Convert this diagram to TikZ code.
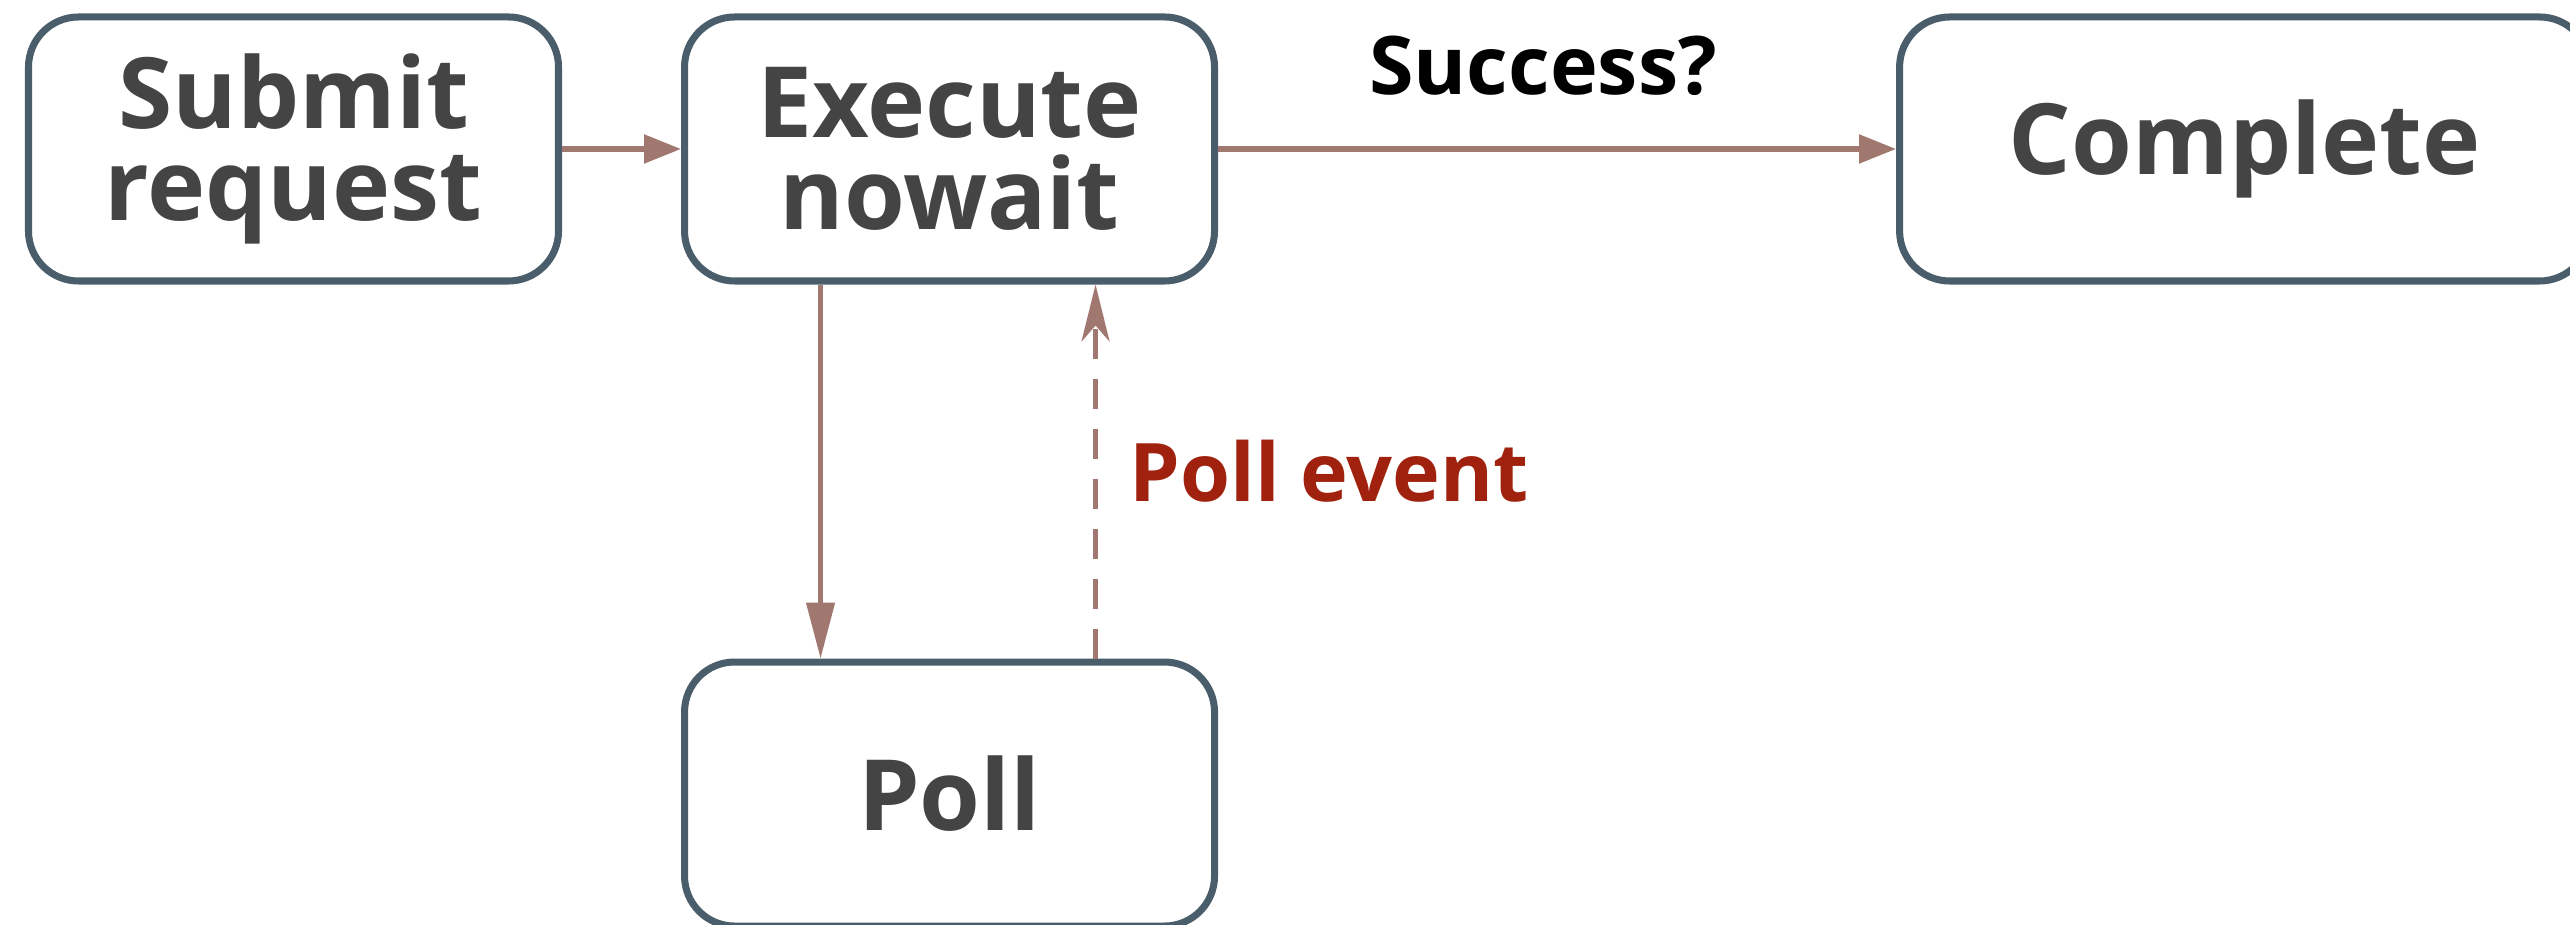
\documentclass[tikz,border=0pt]{standalone}
\usepackage{fontspec}
\setmainfont{Open Sans}
\usepackage{xcolor}
\usepackage{tikz}
\usetikzlibrary{arrows.meta,positioning}

\definecolor{boxline}{RGB}{74,93,107}
\definecolor{boxtext}{RGB}{68,68,68}
\definecolor{arrowcol}{RGB}{160,120,112}
\definecolor{eventred}{RGB}{160,34,14}

\begin{document}
\begin{tikzpicture}[
    >=Latex,
    node distance=11.8mm and 38mm,
    state/.style={draw=boxline, line width=2pt, rounded corners=5mm, align=center, minimum width=5.3cm, minimum height=2.64cm, inner sep=0pt, text=boxtext, font=\fontsize{28}{26}\selectfont\bfseries},
    widestate/.style={state, minimum width=6.9cm},
    line/.style={-{Triangle[length=3.7mm, width=2.8mm]}, line width=1.5pt, draw=arrowcol},
    longline/.style={-{Triangle[length=5.6mm, width=2.8mm]}, line width=1.3pt, draw=arrowcol},
    eventline/.style={-{Stealth[length=5.7mm, width=2.8mm, inset=1.6mm]}, line width=1.3pt, draw=arrowcol, dash pattern=on 3mm off 2mm}
]
\useasboundingbox (0,0) rectangle (25.7,-9.25);

% Top row of states.
\node[state] (submit) at (2.935,-1.49) {Submit\\request};
\node[state, right=11.9mm of submit] (execute) {Execute\\nowait};
\node[widestate, right=67.8mm of execute] (complete) {Complete};

% Polling loop below the execute step.
\node[state, below=37.4mm of execute] (poll) {Poll};

% Main arrows.
\draw[line] (submit) -- (execute);
\draw[line] (execute) -- node[midway, above=3.9mm, text=black, font=\fontsize{23}{24}\selectfont\bfseries, xshift=-1.4mm]{Success?} (complete);

% Poll loop.
\draw[longline] ([xshift=-12.9mm]execute.south) -- ([xshift=-12.9mm]poll.north);
\draw[eventline] ([xshift=14.6mm]poll.north) -- node[right=2mm, text=eventred, font=\fontsize{23}{24}\selectfont\bfseries]{Poll event} ([xshift=14.6mm]execute.south);

\end{tikzpicture}
\end{document}
